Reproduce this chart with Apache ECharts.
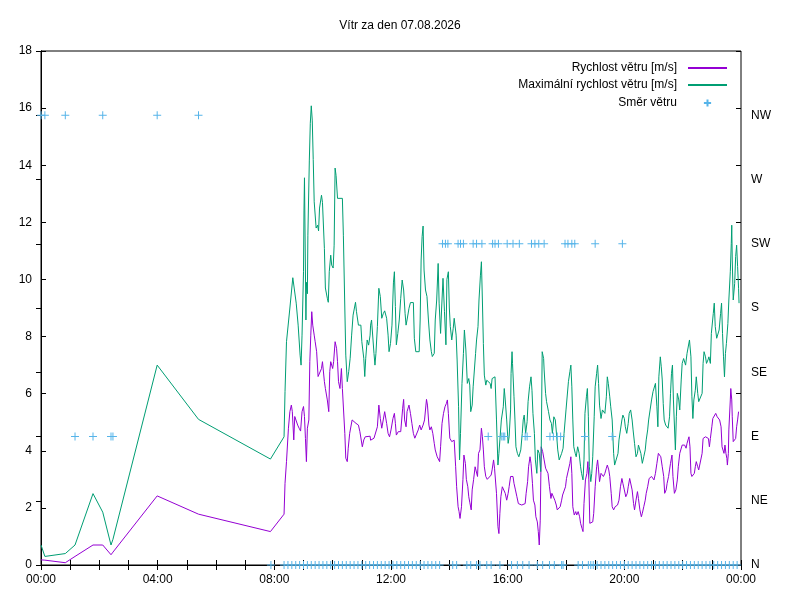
<!DOCTYPE html>
<html>
<head>
<meta charset="utf-8">
<title>Vítr za den 07.08.2026</title>
<script src="https://cdn.jsdelivr.net/npm/echarts@6/dist/echarts.min.js"></script>
<style>
  html, body { margin: 0; padding: 0; background: #fff; }
  #chart { width: 800px; height: 600px; }
</style>
</head>
<body>
<div id="chart"></div>
<script>
// minutes since midnight, speed in m/s
var avgSpeed = [
  [0,0.18],[8,0.17],[50,0.08],[70,0.3],[107,0.7],[127,0.7],[144,0.36],[148,0.45],[239,2.42],[324,1.78],
  [472,1.17],[500,1.78],[502,2.86],[505,3.62],[509,4.79],[512,5.37],[515,5.6],[517,5.37],[520,4.38],[522,5.2],
  [525,5.2],[528,4.9],[531,4.79],[534,4.69],[537,5.37],[540,5.55],[542,5.2],[544,4.43],[546,3.62],[548,4.79],
  [551,5.08],[553,7.12],[555,8.05],[557,8.87],[559,8.4],[562,8.05],[564,7.82],[567,7.47],[570,6.6],[573,6.65],
  [577,6.88],[579,7.12],[583,6.42],[585,6.18],[589,5.78],[592,5.37],[594,6.77],[596,7.12],[600,6.88],[602,7.12],
  [605,7.82],[608,7.59],[610,7.12],[612,6.42],[615,6.18],[618,6.88],[620,6.18],[625,4.61],[627,3.74],[630,3.62],
  [632,4.09],[635,4.61],[640,5.08],[644,5.08],[648,4.96],[653,4.9],[656,4.67],[659,4.67],[661,4.14],[664,4.38],
  [667,4.49],[671,4.55],[677,4.51],[678,4.37],[681,4.32],[685,4.44],[692,4.84],[695,5.6],[698,5.13],[701,4.79],
  [704,5.08],[707,5.37],[711,4.96],[714,4.61],[717,4.49],[720,4.73],[724,5.13],[727,5.31],[729,4.96],[731,4.55],
  [735,4.67],[740,4.67],[744,5.49],[746,5.8],[748,5.08],[751,4.84],[753,5.37],[757,5.6],[760,5.31],[763,4.96],
  [766,4.61],[769,4.44],[772,4.49],[776,4.73],[779,4.9],[782,4.73],[786,4.9],[789,5.08],[793,5.8],[795,5.6],
  [798,4.9],[800,4.73],[803,4.84],[806,4.61],[809,4.26],[811,4.03],[815,3.79],[817,3.73],[820,3.62],[822,4.14],
  [825,4.96],[828,5.31],[831,5.54],[834,5.66],[836,5.78],[838,5.31],[841,4.44],[845,4.32],[847,4.26],[850,4.37],
  [853,3.44],[855,2.74],[858,2.04],[860,1.87],[862,1.63],[865,2.04],[868,3.0],[870,3.85],[873,3.56],[875,3.0],
  [878,2.74],[880,2.39],[882,2.2],[885,1.93],[887,2.63],[890,3.0],[893,3.44],[896,3.5],[898,3.1],[900,3.91],
  [903,4.03],[906,4.79],[908,4.49],[910,4.03],[912,3.44],[915,3.1],[918,3.0],[922,3.03],[926,3.15],[928,3.33],
  [931,3.68],[933,3.39],[937,2.51],[940,1.34],[942,1.1],[944,1.81],[946,2.39],[949,2.74],[951,2.8],[953,2.74],
  [955,2.51],[958,2.27],[961,2.51],[963,2.74],[966,3.1],[968,3.15],[971,3.1],[973,2.86],[976,2.63],[979,2.39],
  [982,2.15],[985,2.1],[989,2.1],[992,2.1],[996,2.15],[998,2.51],[1001,2.92],[1003,3.44],[1006,3.79],[1008,3.56],
  [1011,2.86],[1013,2.27],[1016,2.1],[1018,1.69],[1021,1.51],[1023,1.17],[1025,0.7],[1027,1.57],[1029,4.14],[1030,4.2],
  [1032,3.97],[1035,3.68],[1038,3.39],[1040,3.44],[1043,3.21],[1046,2.74],[1049,2.33],[1051,2.51],[1054,2.45],[1057,2.27],
  [1060,2.1],[1062,1.93],[1065,1.9],[1068,2.04],[1071,2.27],[1073,2.45],[1076,2.39],[1079,2.74],[1081,3.03],[1088,3.56],
  [1090,3.79],[1092,3.21],[1094,2.04],[1097,1.75],[1100,1.87],[1102,1.75],[1105,1.87],[1108,1.69],[1110,1.46],[1113,1.28],
  [1115,1.17],[1117,2.15],[1120,2.98],[1123,3.21],[1125,3.62],[1127,2.98],[1129,1.46],[1132,1.46],[1135,1.51],[1137,1.81],
  [1140,2.74],[1143,3.44],[1145,3.68],[1147,3.33],[1149,2.92],[1152,3.21],[1155,3.27],[1157,3.1],[1160,3.21],[1163,3.39],
  [1165,3.5],[1168,3.33],[1170,3.1],[1173,2.51],[1175,2.04],[1178,1.93],[1181,2.04],[1184,2.1],[1186,2.1],[1189,2.27],
  [1192,2.74],[1195,3.03],[1197,2.86],[1200,2.63],[1203,2.39],[1206,2.51],[1208,2.74],[1211,3.03],[1213,3.1],[1216,2.63],
  [1219,2.15],[1221,1.93],[1224,2.27],[1227,2.57],[1229,2.33],[1232,1.93],[1235,1.69],[1237,1.81],[1240,2.04],[1243,2.27],
  [1245,2.51],[1248,2.74],[1251,3.03],[1253,3.1],[1256,3.1],[1259,3.03],[1261,2.98],[1264,3.21],[1267,3.56],[1270,3.91],
  [1273,3.95],[1275,3.79],[1278,3.44],[1281,3.1],[1283,2.51],[1286,2.63],[1288,2.86],[1291,3.1],[1293,3.33],[1295,3.56],
  [1298,3.85],[1300,3.1],[1303,2.51],[1306,2.63],[1309,2.98],[1311,3.44],[1314,3.91],[1319,4.2],[1322,4.2],[1324,4.2],
  [1327,4.09],[1329,4.26],[1331,4.38],[1333,4.49],[1335,4.14],[1337,3.21],[1339,3.1],[1341,3.04],[1344,3.21],[1346,3.44],
  [1348,3.62],[1351,3.44],[1353,3.33],[1357,3.33],[1360,3.91],[1362,4.43],[1364,4.47],[1367,4.49],[1370,4.5],[1373,4.43],
  [1375,4.14],[1377,4.43],[1380,4.84],[1382,5.13],[1388,5.31],[1391,5.19],[1393,5.13],[1396,5.08],[1399,4.84],[1401,4.14],
  [1403,4.09],[1405,3.91],[1407,4.2],[1409,3.91],[1411,3.73],[1412,3.5],[1414,3.91],[1415,4.73],[1418,5.78],[1419,6.18],
  [1421,5.78],[1422,5.19],[1424,4.32],[1426,4.38],[1429,4.43],[1431,4.84],[1433,5.08],[1435,5.37]
];

var maxSpeed = [
  [0,0.7],[8,0.3],[50,0.4],[70,0.7],[107,2.5],[127,1.85],[144,0.7],[148,0.9],[239,7.0],[324,5.1],
  [472,3.71],[500,4.49],[502,6.07],[505,7.82],[512,9.0],[518,10.06],[521,10.06],[525,9.17],[529,8.4],[533,7.35],
  [535,7.0],[537,8.05],[540,10.27],[541,12.43],[542,13.56],[545,8.58],[546,9.9],[548,9.5],[549,11.55],[552,14.18],
  [554,15.47],[556,16.08],[558,15.58],[560,14.2],[562,12.72],[566,11.8],[569,11.9],[571,11.7],[573,12.5],[577,12.95],
  [579,12.7],[583,11.08],[585,9.7],[589,9.34],[591,9.2],[593,10.27],[596,10.85],[598,10.5],[601,10.4],[603,11.2],
  [605,13.9],[607,13.64],[610,12.84],[620,12.84],[622,11.55],[625,9.0],[627,7.35],[630,6.42],[633,6.77],[636,7.24],
  [639,8.05],[642,8.75],[647,9.2],[649,8.87],[653,8.4],[658,8.4],[660,7.82],[664,7.24],[666,6.6],[668,7.24],
  [671,7.88],[674,7.7],[677,8.05],[678,8.4],[680,8.58],[685,7.41],[687,7.0],[689,7.41],[692,8.35],[695,9.69],
  [698,9.4],[701,8.64],[704,8.8],[707,8.9],[711,8.64],[714,8.05],[716,7.47],[719,7.76],[722,8.4],[725,9.88],
  [727,10.27],[729,9.05],[731,7.71],[734,8.11],[737,8.58],[740,9.34],[743,9.98],[746,9.63],[749,8.8],[751,8.4],
  [753,8.58],[757,8.99],[760,9.19],[766,9.19],[768,7.94],[771,7.47],[778,7.47],[780,8.58],[782,10.68],[784,11.5],
  [786,11.87],[788,10.33],[791,9.63],[794,9.4],[797,8.58],[800,7.88],[803,7.47],[805,7.3],[809,7.41],[811,8.58],
  [814,9.28],[817,10.56],[819,9.17],[822,8.11],[824,8.93],[827,10.04],[830,8.87],[833,7.71],[835,10.0],[838,10.27],
  [840,9.0],[842,8.35],[845,7.88],[848,8.29],[850,8.64],[854,8.05],[856,7.18],[859,5.54],[861,3.68],[863,4.61],
  [866,6.35],[869,7.41],[871,8.23],[874,7.53],[877,6.36],[880,6.53],[882,6.3],[884,5.37],[887,5.6],[889,6.24],
  [894,7.41],[896,7.88],[899,8.35],[901,9.28],[904,10.15],[906,10.62],[908,9.28],[910,7.76],[912,6.65],[915,6.3],
  [917,6.47],[921,6.53],[924,6.36],[926,6.18],[928,6.53],[931,6.59],[934,6.59],[937,5.08],[940,3.5],[942,3.91],
  [944,4.38],[947,5.08],[951,5.54],[953,6.18],[955,5.78],[958,5.08],[961,4.26],[963,4.49],[966,5.43],[967,6.71],
  [969,7.47],[970,7.06],[973,5.89],[975,5.08],[977,4.14],[980,3.91],[983,3.79],[985,3.73],[987,4.03],[990,4.61],
  [992,5.08],[994,5.25],[997,4.61],[1000,5.02],[1002,5.72],[1005,6.24],[1008,6.59],[1010,6.12],[1012,5.31],[1015,4.61],
  [1017,3.68],[1020,3.21],[1022,4.03],[1025,3.91],[1028,3.27],[1029,3.91],[1031,7.47],[1034,7.23],[1035,6.83],[1038,6.01],
  [1040,5.72],[1044,5.37],[1047,5.08],[1050,4.96],[1052,4.61],[1055,5.19],[1058,5.08],[1061,4.49],[1063,4.03],[1066,3.68],
  [1068,3.73],[1071,3.91],[1074,4.09],[1076,4.61],[1080,5.43],[1085,6.42],[1088,6.77],[1090,7.0],[1092,6.24],[1094,5.08],
  [1096,4.14],[1099,3.91],[1101,3.79],[1104,4.14],[1107,3.91],[1110,3.44],[1112,3.21],[1115,2.98],[1117,3.68],[1119,5.31],
  [1122,5.89],[1124,6.18],[1126,5.19],[1128,3.44],[1131,2.92],[1133,3.21],[1135,3.79],[1138,5.19],[1140,6.24],[1143,6.71],
  [1145,7.0],[1147,6.36],[1149,5.6],[1152,5.13],[1155,5.43],[1157,5.37],[1160,5.31],[1163,5.89],[1165,6.59],[1167,6.36],
  [1170,5.89],[1172,5.54],[1175,5.08],[1178,3.91],[1180,3.5],[1184,3.5],[1187,3.91],[1189,4.38],[1192,4.73],[1195,5.08],
  [1197,5.25],[1200,5.13],[1202,4.84],[1205,4.61],[1208,4.96],[1210,5.31],[1213,5.43],[1216,5.08],[1218,4.73],[1221,4.26],
  [1224,3.79],[1227,3.91],[1229,4.2],[1232,4.2],[1234,3.91],[1237,3.56],[1240,3.79],[1243,4.03],[1245,4.38],[1248,4.73],
  [1250,5.08],[1253,5.43],[1256,5.78],[1259,6.07],[1261,6.01],[1264,6.36],[1267,5.54],[1269,4.84],[1271,6.59],[1274,7.29],
  [1276,6.94],[1278,6.48],[1280,5.66],[1282,5.08],[1285,4.9],[1288,4.84],[1290,4.79],[1293,5.19],[1295,6.01],[1297,6.71],
  [1299,7.0],[1301,5.78],[1305,4.03],[1307,5.19],[1309,6.01],[1312,5.78],[1314,5.43],[1317,6.48],[1319,7.06],[1322,7.23],
  [1324,7.18],[1326,7.0],[1329,7.41],[1334,7.88],[1337,7.29],[1339,5.89],[1341,5.13],[1343,5.78],[1346,6.12],[1348,6.59],
  [1351,6.01],[1353,5.72],[1357,5.72],[1360,6.01],[1362,7.06],[1364,7.47],[1367,7.29],[1369,7.06],[1372,7.18],[1374,7.29],
  [1377,7.06],[1379,8.11],[1383,8.81],[1385,9.17],[1387,8.35],[1390,7.94],[1392,8.0],[1395,8.23],[1398,8.81],[1400,9.17],
  [1402,8.11],[1404,7.29],[1406,6.59],[1408,7.41],[1410,7.76],[1413,8.46],[1415,9.28],[1418,10.27],[1420,11.26],[1421,11.9],
  [1422,10.68],[1424,9.28],[1427,9.86],[1429,10.8],[1431,11.2],[1433,10.45],[1435,9.69],[1436,9.17]
];

// wind direction samples (minutes) grouped by direction
var dirNwTimes = [0, 8, 50, 127, 239, 324];
var dirETimes = [70, 107, 144, 148, 920, 948, 951, 954, 996, 1000, 1047, 1054, 1062, 1069, 1119, 1175];
var dirSwTimes = [826, 832, 837, 858, 863, 869, 889, 896, 907, 929, 934, 941, 959, 971, 984,
  1009, 1016, 1024, 1035, 1078, 1084, 1092, 1098, 1140, 1196];
var dirNTimes = [473, 500, 508, 516, 524, 532, 540, 548, 556, 564, 572, 580, 588, 596, 604, 612, 620,
  628, 636, 644, 652, 660, 668, 676, 684, 692, 700, 708, 716, 724, 732, 740, 748, 756, 764, 772, 780,
  788, 796, 804, 812, 820, 847, 855, 876, 884, 896, 903, 917, 926, 944, 968, 980, 991, 1004, 1021,
  1032, 1046, 1056, 1071, 1074, 1105, 1114, 1126, 1131, 1136, 1144, 1152, 1160, 1168, 1176, 1184,
  1192, 1200, 1208, 1216, 1224, 1232, 1240, 1248, 1256, 1264, 1272, 1280, 1288, 1296, 1304, 1312,
  1320, 1328, 1336, 1344, 1352, 1360, 1368, 1376, 1384, 1392, 1400, 1408, 1416, 1424, 1432];

var dirLabels = ['N', 'NE', 'E', 'SE', 'S', 'SW', 'W', 'NW', ''];

var seriesNames = ['Rychlost větru [m/s]', 'Maximální rychlost větru [m/s]', 'Směr větru'];

function dirPoints(times, deg) {
  var out = [];
  for (var i = 0; i < times.length; i++) {
    out.push([times[i], deg]);
  }
  return out;
}

var dirData = [].concat(
  dirPoints(dirNwTimes, 315),
  dirPoints(dirETimes, 90),
  dirPoints(dirSwTimes, 225),
  dirPoints(dirNTimes, 0)
);

var font = 'Liberation Sans';
var tick = { inside: true, length: 5, lineStyle: { color: '#000' } };
var minor = { show: true, splitNumber: 4, length: 5, lineStyle: { color: '#000' } };

function legendFor(name, top, h, hideSymbol) {
  var lg = {
    data: [name],
    right: 72,
    top: top,
    padding: 0,
    align: 'right',
    itemWidth: 39,
    itemHeight: h,
    selectedMode: false,
    textStyle: { fontFamily: font, fontSize: 12, color: '#000', padding: [0, 6, 0, 0] }
  };
  if (hideSymbol) {
    lg.itemStyle = { opacity: 0 };
  }
  return lg;
}

var chart = echarts.init(document.getElementById('chart'));

var option = {
  animation: false,
  backgroundColor: '#fff',
  title: {
    text: 'Vítr za den 07.08.2026',
    left: 'center',
    top: 20,
    padding: 0,
    textStyle: { fontFamily: font, fontSize: 12, fontWeight: 'normal', color: '#000' }
  },
  legend: [
    legendFor(seriesNames[0], 62, 14, true),
    legendFor(seriesNames[1], 79, 14, true),
    legendFor(seriesNames[2], 97, 9, false)
  ],
  grid: {
    left: 41, right: 59, top: 51, bottom: 35,
    show: true, borderColor: '#000', borderWidth: 1, backgroundColor: 'transparent'
  },
  xAxis: [
    {
      type: 'value', min: 0, max: 1440, interval: 240, position: 'bottom',
      axisLine: { show: true, lineStyle: { color: '#000' } },
      axisTick: tick, minorTick: minor,
      splitLine: { show: false },
      axisLabel: {
        margin: 9, color: '#000', fontFamily: font, fontSize: 12,
        formatter: function (v) {
          var h = Math.floor(v / 60) % 24;
          return (h < 10 ? '0' : '') + h + ':00';
        }
      }
    },
    {
      type: 'value', min: 0, max: 1440, interval: 240, position: 'top',
      axisLine: { show: true, lineStyle: { color: '#000' } },
      axisTick: tick, minorTick: minor,
      splitLine: { show: false },
      axisLabel: { show: false }
    }
  ],
  yAxis: [
    {
      type: 'value', min: 0, max: 18, interval: 2, position: 'left',
      axisLine: { show: true, lineStyle: { color: '#000' } },
      axisTick: tick,
      splitLine: { show: false },
      axisLabel: { margin: 9, color: '#000', fontFamily: font, fontSize: 12 }
    },
    {
      type: 'value', min: 0, max: 360, interval: 45, position: 'right',
      axisLine: { show: true, lineStyle: { color: '#000' } },
      axisTick: tick,
      splitLine: { show: false },
      axisLabel: {
        margin: 10, color: '#000', fontFamily: font, fontSize: 12,
        formatter: function (v) { return dirLabels[Math.round(v / 45)]; }
      }
    },
    {
      type: 'value', min: 0, max: 18, interval: 2, position: 'right', offset: 0,
      axisLine: { show: false },
      axisTick: tick,
      splitLine: { show: false },
      axisLabel: { show: false }
    }
  ],
  series: [
    {
      name: seriesNames[0],
      type: 'line',
      data: avgSpeed,
      symbol: 'none',
      color: '#9400d3',
      lineStyle: { width: 1, color: '#9400d3' }
    },
    {
      name: seriesNames[1],
      type: 'line',
      data: maxSpeed,
      symbol: 'none',
      color: '#009e73',
      lineStyle: { width: 1, color: '#009e73' }
    },
    {
      name: seriesNames[2],
      type: 'line',
      yAxisIndex: 1,
      data: dirData,
      symbol: 'path://M0,5H10M5,0V10',
      symbolSize: 8,
      showAllSymbol: true,
      color: '#56b4e9',
      lineStyle: { opacity: 0 },
      itemStyle: { color: '#56b4e9', borderColor: '#56b4e9', borderWidth: 1 }
    }
  ]
};

chart.setOption(option);
</script>
</body>
</html>
